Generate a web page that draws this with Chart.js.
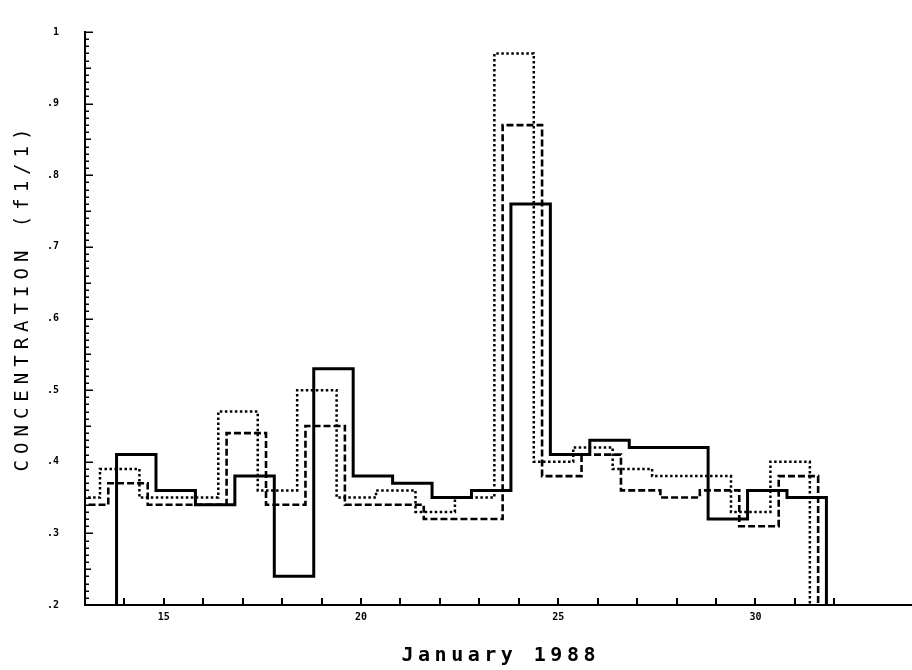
<!DOCTYPE html>
<html>
<head>
<meta charset="utf-8">
<script src="https://cdn.jsdelivr.net/npm/chart.js@4"></script>
<style>
html,body{margin:0;padding:0;background:#fff;}
#wrap{width:912px;height:670px;position:relative;}
canvas{display:block;}
</style>
</head>
<body>
<div id="wrap"><canvas id="c" width="912" height="670" style="width:912px;height:670px"></canvas></div>
<script>
// ---- chart data ----
const xTitle = 'January 1988';
const yTitle = 'CONCENTRATION (f1/1)';
const xLabelDays = [15, 20, 25, 30];
const yLabelValues = [0.2, 0.3, 0.4, 0.5, 0.6, 0.7, 0.8, 0.9, 1.0];

// solid series: bin edges (day of January) and values in each bin
const solidEdges  = [13.80, 14.80, 15.80, 16.80, 17.80, 18.80, 19.80, 20.80, 21.80, 22.80,
                     23.80, 24.80, 25.80, 26.80, 27.80, 28.80, 29.80, 30.80, 31.80];
const solidValues = [0.41, 0.36, 0.34, 0.38, 0.24, 0.53, 0.38, 0.37, 0.35,
                     0.36, 0.76, 0.41, 0.43, 0.42, 0.42, 0.32, 0.36, 0.35];

// dashed series
const dashedEdges  = [12.59, 13.59, 14.59, 15.59, 16.59, 17.59, 18.59, 19.59, 20.59, 21.59,
                      22.59, 23.59, 24.59, 25.59, 26.59, 27.59, 28.59, 29.59, 30.59, 31.59];
const dashedValues = [0.34, 0.37, 0.34, 0.34, 0.44, 0.34, 0.45, 0.34, 0.34, 0.32,
                      0.32, 0.87, 0.38, 0.41, 0.36, 0.35, 0.36, 0.31, 0.38];

// dotted series
const dottedEdges  = [12.38, 13.38, 14.38, 15.38, 16.38, 17.38, 18.38, 19.38, 20.38, 21.38,
                      22.38, 23.38, 24.38, 25.38, 26.38, 27.38, 28.38, 29.38, 30.38, 31.38];
const dottedValues = [0.35, 0.39, 0.35, 0.35, 0.47, 0.36, 0.50, 0.35, 0.36, 0.33,
                      0.35, 0.97, 0.40, 0.42, 0.39, 0.38, 0.38, 0.33, 0.40];

const yMin = 0.2, yMax = 1.0;
const xMin = 13, xMax = 33.97;

// build step points: value i holds over [edge i, edge i+1]; start and end at the axis floor
function stepPoints(edges, values) {
  const pts = [{x: edges[0], y: yMin}];
  for (let i = 0; i < values.length; i++) pts.push({x: edges[i + 1], y: values[i]});
  pts.push({x: edges[edges.length - 1], y: yMin});
  return pts;
}

const monoFont = '"DejaVu Sans Mono", "Liberation Mono", monospace';

const decorPlugin = {
  id: 'decor',
  afterDraw(chart) {
    const {ctx, chartArea: a, scales: {x, y}} = chart;
    ctx.save();
    ctx.strokeStyle = '#000';
    ctx.fillStyle = '#000';
    // inward x ticks at every day
    ctx.lineWidth = 2;
    ctx.beginPath();
    x.ticks.forEach(t => {
      if (Number.isInteger(t.value) && t.value > xMin) {
        const px = Math.round(x.getPixelForValue(t.value));
        ctx.moveTo(px, a.bottom);
        ctx.lineTo(px, a.bottom - 7);
      }
    });
    ctx.stroke();
    // inward y ticks every 0.01
    ctx.lineWidth = 1.5;
    ctx.beginPath();
    for (let k = Math.round(yMin * 100); k <= Math.round(yMax * 100); k++) {
      const py = Math.round(y.getPixelForValue(k / 100)) + 0.25;
      const len = (k % 10 === 0) ? 8 : ((k % 5 === 0) ? 6 : 4);
      ctx.moveTo(a.left, py);
      ctx.lineTo(a.left + len, py);
    }
    ctx.stroke();

    // x tick labels
    ctx.font = 'bold 10px ' + monoFont;
    ctx.textAlign = 'center';
    ctx.textBaseline = 'top';
    xLabelDays.forEach(d => ctx.fillText(String(d), x.getPixelForValue(d), a.bottom + 7));

    // x title
    const ls1 = 4.5;
    ctx.font = 'bold 20px ' + monoFont;
    if ('letterSpacing' in ctx) ctx.letterSpacing = ls1 + 'px';
    ctx.textAlign = 'center';
    ctx.textBaseline = 'alphabetic';
    ctx.fillText(xTitle, (a.left + a.right) / 2 + ls1 / 2, 661);

    // y title (rotated)
    const ls2 = 6;
    ctx.font = '19px ' + monoFont;
    if ('letterSpacing' in ctx) ctx.letterSpacing = ls2 + 'px';
    ctx.translate(28, 300);
    ctx.rotate(-Math.PI / 2);
    ctx.textAlign = 'center';
    ctx.textBaseline = 'alphabetic';
    ctx.fillText(yTitle, ls2 / 2, 0);
    ctx.restore();
  }
};

const baseLine = {
  pointRadius: 0,
  pointHoverRadius: 0,
  borderColor: '#000',
  backgroundColor: '#000',
  fill: false,
  stepped: 'after',
  tension: 0,
  borderCapStyle: 'butt',
  borderJoinStyle: 'miter',
  spanGaps: true
};

new Chart(document.getElementById('c'), {
  type: 'line',
  data: {
    datasets: [
      Object.assign({}, baseLine, {label: 'dotted', data: stepPoints(dottedEdges, dottedValues), borderWidth: 2.5, borderDash: [2.5, 2.5]}),
      Object.assign({}, baseLine, {label: 'dashed', data: stepPoints(dashedEdges, dashedValues), borderWidth: 2.6, borderDash: [7, 3]}),
      Object.assign({}, baseLine, {label: 'solid',  data: stepPoints(solidEdges,  solidValues),  borderWidth: 3})
    ]
  },
  options: {
    responsive: false,
    animation: false,
    devicePixelRatio: 1,
    layout: {padding: {top: 15, right: 0, left: 0, bottom: 0}},
    plugins: {legend: {display: false}, tooltip: {enabled: false}},
    events: [],
    scales: {
      x: {
        type: 'linear',
        min: xMin,
        max: xMax,
        grid: {display: true, drawOnChartArea: false, drawTicks: false},
        border: {display: true, color: '#000', width: 2},
        ticks: {stepSize: 1, autoSkip: false, display: false},
        afterFit: s => { s.height = 65; }
      },
      y: {
        type: 'linear',
        min: yMin,
        max: yMax,
        grid: {display: true, drawOnChartArea: false, drawTicks: false},
        border: {display: true, color: '#000', width: 2},
        ticks: {
          stepSize: 0.1,
          autoSkip: false,
          padding: 26,
          color: '#000',
          font: {family: monoFont, size: 10, weight: 'bold'},
          callback: v => {
            const k = Math.round(v * 10);
            if (!yLabelValues.some(t => Math.round(t * 10) === k)) return '';
            return k === 10 ? '1' : '.' + k;
          }
        },
        afterFit: s => { s.width = 85; }
      }
    }
  },
  plugins: [decorPlugin]
});
</script>
</body>
</html>
